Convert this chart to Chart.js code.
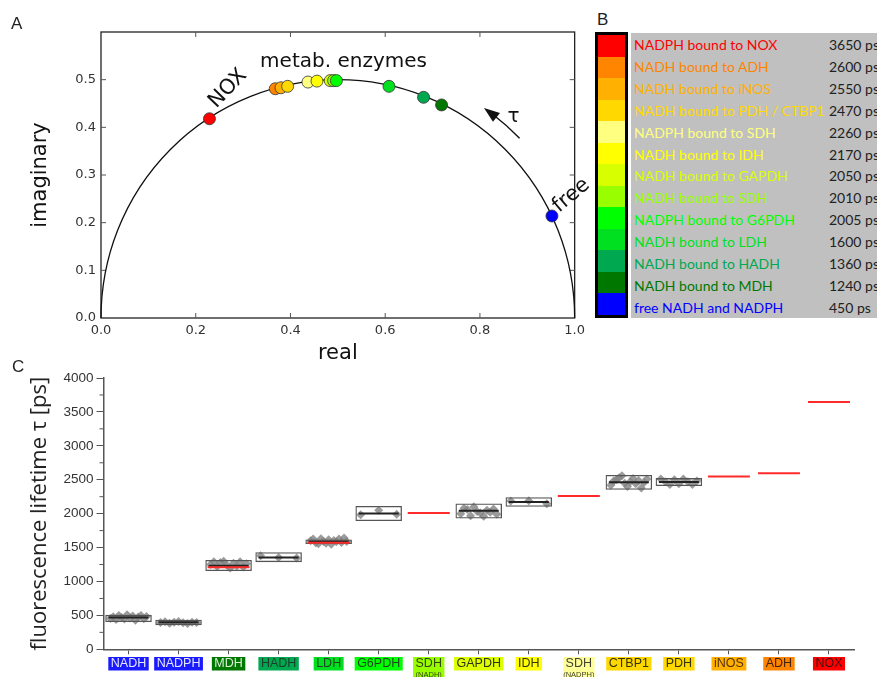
<!DOCTYPE html>
<html><head><meta charset="utf-8">
<script src="https://cdn.jsdelivr.net/npm/chart.js@4.4.1/dist/chart.umd.min.js"></script>
<style>
html,body{margin:0;padding:0;background:#fff;}
#wrap{position:relative;width:877px;height:677px;overflow:hidden;background:#fff;}
canvas{position:absolute;}
.plabel{position:absolute;font-family:"Liberation Sans",Arial,sans-serif;font-size:17px;line-height:17px;color:#222;}
#cbar{position:absolute;left:595px;top:32px;width:27px;height:280px;border:3px solid #000;}
#cbar div{width:100%;}
#bbox{position:absolute;left:631px;top:33px;width:246px;height:285px;background:#c0c0c0;}
.brow{position:absolute;left:634px;height:22px;line-height:22px;font-family:Lato,"Open Sans",sans-serif;font-size:14px;white-space:nowrap;}
.bval{position:absolute;left:829px;height:22px;line-height:22px;font-family:Lato,"Open Sans",sans-serif;font-size:14px;color:#222;white-space:nowrap;}
</style></head><body>
<div id="wrap">
<canvas id="cA" width="590" height="370" style="left:0;top:0"></canvas>
<canvas id="cC" width="877" height="322" style="left:0;top:355px"></canvas>
<div class="plabel" style="left:11px;top:15px">A</div>
<div class="plabel" style="left:597px;top:11px">B</div>
<div class="plabel" style="left:12px;top:358px">C</div>
<div id="cbar"></div>
<div id="bbox"></div>
</div>
<script>
// ---------- Panel A / B : enzymes (legend order) ----------
const enzymeLabels = ['NADPH bound to NOX','NADH bound to ADH','NADH bound to iNOS','NADH bound to PDH / CTBP1','NADPH bound to SDH','NADH bound to IDH','NADH bound to GAPDH','NADH bound to SDH','NADPH bound to G6PDH','NADH bound to LDH','NADH bound to HADH','NADH bound to MDH','free NADH and NADPH'];
const enzymeLifetimes = ['3650 ps','2600 ps','2550 ps','2470 ps','2260 ps','2170 ps','2050 ps','2010 ps','2005 ps','1600 ps','1360 ps','1240 ps','450 ps'];
const enzymeColors = ['#ff0000','#ff8400','#ffb000','#ffd800','#ffff80','#ffff00','#d8ff00','#99ff00','#00ff00','#00e020','#00a850','#007800','#0000ff'];
const phasorReal = [0.229,0.368,0.380,0.394,0.437,0.456,0.484,0.491,0.497,0.608,0.681,0.719,0.952];
const phasorImag = [0.418,0.481,0.483,0.486,0.495,0.497,0.498,0.498,0.498,0.486,0.463,0.447,0.214];

// ---------- Panel C ----------
const categories = ['NADH','NADPH','MDH','HADH','LDH','G6PDH','SDH','GAPDH','IDH','SDH','CTBP1','PDH','iNOS','ADH','NOX'];
const subLabels = ['','','','','','','(NADH)','','','(NADPH)','','','','',''];
const categoryColors = ['#1a1aff','#1a1aff','#007800','#00a850','#00e020','#00ff00','#99ff00','#ddff00','#ffff00','#ffff99','#ffd800','#ffd800','#ffb000','#ff8400','#ff0000'];
const categoryTextColors = ['#e6e6ff','#e6e6ff','#d8f0d8','#1d3d2d','#224422','#224422','#334411','#333311','#333311','#444433','#333311','#333311','#553311','#442211','#441111'];
const meanValues = [469,398,1233,1352,1585,2003,null,2041,2173,null,2464,2468,null,null,null];
const boxLow =  [403,356,1155,1285,1553,1891,null,1929,2102,null,2351,2408,null,null,null];
const boxHigh = [508,436,1318,1431,1619,2112,null,2149,2243,null,2571,2524,null,null,null];
const referenceValues = [null,null,1210,null,1572,null,2008,null,null,2261,null,null,2548,2595,3647];
const measured = [
  [455,480,440,500,470,445,510,460,490,430,475,500,450,485],
  [395,405,385,400,410,390,380,400,395],
  [1250,1290,1220,1280,1300,1240,1200,1270,1230,1290,1215,1260],
  [1380,1355,1345],
  [1600,1625,1570,1555,1630,1590,1565,1615,1550,1605,1585,1625,1575,1640,1590],
  [1985,2050,1990],
  [],
  [2000,2080,2060,1970,2100,2030,2010,1960,2050,2020,2070,1990],
  [2185,2190,2145],
  [],
  [2420,2480,2500,2530,2560,2450,2400,2470,2520,2440,2490,2380,2460,2510],
  [2510,2470,2430,2500,2440,2510,2470,2430,2480],
  [],[],[]
];
const yTicks = {min:0, max:4000, step:500, minorStep:250};

// ---------- Panel B (HTML legend) ----------
const cbar = document.getElementById('cbar');
const wrap = document.getElementById('wrap');
enzymeColors.forEach((c,i)=>{
  const d = document.createElement('div');
  d.style.height = (280/enzymeColors.length)+'px';
  d.style.background = c;
  cbar.appendChild(d);
  const t = document.createElement('div');
  t.className='brow'; t.style.top=(34+i*21.9)+'px'; t.style.color=c; t.textContent=enzymeLabels[i];
  wrap.appendChild(t);
  const v = document.createElement('div');
  v.className='bval'; v.style.top=(34+i*21.9)+'px'; v.textContent=enzymeLifetimes[i];
  wrap.appendChild(v);
});

// ---------- Panel A chart ----------
const phasorDecor = {
  id:'phasorDecor',
  beforeDatasetsDraw(chart){
    const {ctx, chartArea:a, scales:{x,y}} = chart;
    const line=(x1,y1,x2,y2)=>{ctx.beginPath();ctx.moveTo(x1,y1);ctx.lineTo(x2,y2);ctx.stroke();};
    ctx.save();
    ctx.strokeStyle='#222'; ctx.lineWidth=1.3;
    ctx.strokeRect(a.left, a.top, a.right-a.left, a.bottom-a.top);
    ctx.lineWidth=1; ctx.strokeStyle='#555';
    x.ticks.forEach(t=>{const px=x.getPixelForValue(t.value); if(px<a.left+2||px>a.right-2) return; line(px,a.bottom,px,a.bottom-5); line(px,a.top,px,a.top+5);});
    y.ticks.forEach(t=>{const py=y.getPixelForValue(t.value); if(py<a.top+2||py>a.bottom-2) return; line(a.left,py,a.left+5,py); line(a.right,py,a.right-5,py);});
    const cx=x.getPixelForValue(0.5), cy=y.getPixelForValue(0);
    const rx=x.getPixelForValue(1)-cx, ry=cy-y.getPixelForValue(0.5);
    ctx.beginPath(); ctx.ellipse(cx,cy,rx,ry,0,Math.PI,2*Math.PI);
    ctx.strokeStyle='#111'; ctx.lineWidth=1.3; ctx.stroke();
    const k=0.538/0.5, d2r=Math.PI/180;
    ctx.beginPath(); ctx.ellipse(cx,cy,rx*k,ry*k,0,-52.5*d2r,-44.5*d2r);
    ctx.lineWidth=1.4; ctx.stroke();
    const P=(ang,f)=>[cx+rx*k*f*Math.cos(ang*d2r), cy-ry*k*f*Math.sin(ang*d2r)];
    const tip=P(55,1), b1=P(51.5,1.022), b2=P(51.5,0.978);
    ctx.beginPath(); ctx.moveTo(tip[0],tip[1]); ctx.lineTo(b1[0],b1[1]); ctx.lineTo(b2[0],b2[1]); ctx.closePath();
    ctx.fillStyle='#111'; ctx.fill();
    ctx.fillStyle='#111'; ctx.font='20px "DejaVu Sans"'; ctx.textAlign='center'; ctx.textBaseline='alphabetic';
    ctx.fillText('metab. enzymes', x.getPixelForValue(0.512), y.getPixelForValue(0.526));
    ctx.textBaseline='middle';
    ctx.fillText('τ', x.getPixelForValue(0.871), y.getPixelForValue(0.423));
    const rot=(txt,dx,dy,ang)=>{ctx.save();ctx.translate(x.getPixelForValue(dx),y.getPixelForValue(dy));ctx.rotate(ang*d2r);ctx.fillText(txt,0,0);ctx.restore();};
    ctx.font='21px "DejaVu Sans"';
    rot('NOX',0.268,0.481,-46);
    rot('free',0.993,0.257,-40);
    ctx.restore();
  }
};
new Chart(document.getElementById('cA'), {
  type:'scatter',
  data:{datasets:[{
    data: phasorReal.map((v,i)=>({x:v,y:phasorImag[i]})),
    backgroundColor: enzymeColors, pointBackgroundColor: enzymeColors,
    borderColor:'#333', pointBorderColor:'#333', pointBorderWidth:0.8,
    pointRadius:6, pointHoverRadius:6
  }]},
  options:{
    responsive:false, animation:false, devicePixelRatio:1,
    layout:{padding:{left:0,top:32,right:12,bottom:0}},
    plugins:{legend:{display:false}, tooltip:{enabled:false}},
    scales:{
      x:{type:'linear',min:0,max:1,afterFit:s=>{s.height=52;},
        grid:{display:false,drawTicks:false}, border:{display:false},
        ticks:{stepSize:0.2,padding:5,maxRotation:0,color:'#333',font:{family:'DejaVu Sans',size:13},callback:v=>v.toFixed(1)},
        title:{display:true,text:'real',color:'#111',font:{family:'DejaVu Sans',size:21},padding:{top:0,bottom:4}}},
      y:{type:'linear',min:0,max:0.6,afterFit:s=>{s.width=101;},
        grid:{display:false,drawTicks:false}, border:{display:false},
        ticks:{stepSize:0.1,padding:5,color:'#333',font:{family:'DejaVu Sans',size:13},callback:v=>v>0.55?'':v.toFixed(1)},
        title:{display:true,text:'imaginary',color:'#111',font:{family:'DejaVu Sans',size:21},padding:{top:28,bottom:0}}}
    }
  },
  plugins:[phasorDecor]
});

// ---------- Panel C chart ----------
const lifetimeDecor = {
  id:'lifetimeDecor',
  afterDraw(chart){
    const {ctx, scales:{x,y}} = chart;
    ctx.save();
    ctx.strokeStyle='#555'; ctx.lineWidth=1;
    for(let v=yTicks.minorStep; v<yTicks.max; v+=yTicks.step){
      const py=y.getPixelForValue(v);
      ctx.beginPath(); ctx.moveTo(y.right-4,py); ctx.lineTo(y.right,py); ctx.stroke();
    }
    ctx.textAlign='center'; ctx.textBaseline='middle';
    categories.forEach((c,i)=>{
      const px=x.getPixelForValue(i);
      ctx.font='12.5px "Liberation Sans"';
      const w=ctx.measureText(c).width+5;
      const top=302, h = subLabels[i] ? 22 : 13.5;
      ctx.fillStyle=categoryColors[i];
      ctx.fillRect(px-w/2, top, w, h);
      ctx.fillStyle=categoryTextColors[i];
      ctx.fillText(c, px, top+7);
      if(subLabels[i]){
        ctx.font='7.5px "Liberation Sans"';
        ctx.fillText(subLabels[i], px, top+18);
      }
    });
    ctx.restore();
  }
};
const nCat = categories.length;
const scatterPts = [];
measured.forEach((vals,i)=>{
  const n=vals.length;
  vals.forEach((v,j)=>{ scatterPts.push({x: i + (n>1 ? -0.36 + 0.72*j/(n-1) : 0), y:v}); });
});
const boxData = [];
boxLow.forEach((l,i)=>{ if(l!=null) boxData.push({x:i, y:[l, boxHigh[i]]}); });
const meanData = [], refData = [];
meanValues.forEach((v,i)=>{ if(v!=null) meanData.push({x:i,y:v}); });
referenceValues.forEach((v,i)=>{ if(v!=null) refData.push({x:i,y:v}); });
new Chart(document.getElementById('cC'), {
  type:'scatter',
  data:{datasets:[
    {type:'scatter', data:refData, pointStyle:'line', pointRadius:21, pointHoverRadius:21,
     borderColor:'#ff2a2a', pointBorderColor:'#ff2a2a', pointBorderWidth:2, borderWidth:2, order:0},
    {type:'scatter', data:meanData, pointStyle:'line', pointRadius:20, pointHoverRadius:20,
     borderColor:'#222', pointBorderColor:'#222', pointBorderWidth:2, borderWidth:2, order:1},
    {type:'bar', data:boxData, backgroundColor:'rgba(0,0,0,0)', grouped:false,
     borderColor:'#555', borderWidth:1.3, borderSkipped:false, barPercentage:0.93, categoryPercentage:1, order:2},
    {type:'scatter', data:scatterPts, pointStyle:'rectRot', pointRadius:4.5, pointHoverRadius:4.5,
     backgroundColor:'rgba(130,130,130,0.8)', pointBackgroundColor:'rgba(130,130,130,0.8)', pointBorderWidth:0, borderWidth:0, order:3}
  ]},
  options:{
    responsive:false, animation:false, devicePixelRatio:1,
    layout:{padding:{left:0,top:11,right:0,bottom:0}},
    plugins:{legend:{display:false}, tooltip:{enabled:false}},
    scales:{
      x:{type:'linear', min:-0.5, max:nCat-0.5, offset:false, afterFit:s=>{s.height=27.7;},
        afterBuildTicks:s=>{ s.ticks = categories.map((c,i)=>({value:i})); },
        grid:{display:true,drawOnChartArea:false,offset:false,tickLength:5,color:'#555',lineWidth:1},
        border:{display:true,color:'#555',width:1.5},
        ticks:{display:false}},
      y:{type:'linear', min:yTicks.min, max:yTicks.max, afterFit:s=>{s.width=103.5;},
        grid:{display:true,drawOnChartArea:false,tickLength:7,color:'#555',lineWidth:1},
        border:{display:true,color:'#555',width:1.5},
        ticks:{stepSize:yTicks.step,padding:3,color:'#333',font:{family:'Liberation Sans',size:13.5},callback:v=>String(v)},
        title:{display:true,text:'fluorescence lifetime τ [ps]',color:'#222',font:{family:'Open Sans',size:22},padding:{top:27,bottom:0}}}
    }
  },
  plugins:[lifetimeDecor]
});
</script>
</body></html>
